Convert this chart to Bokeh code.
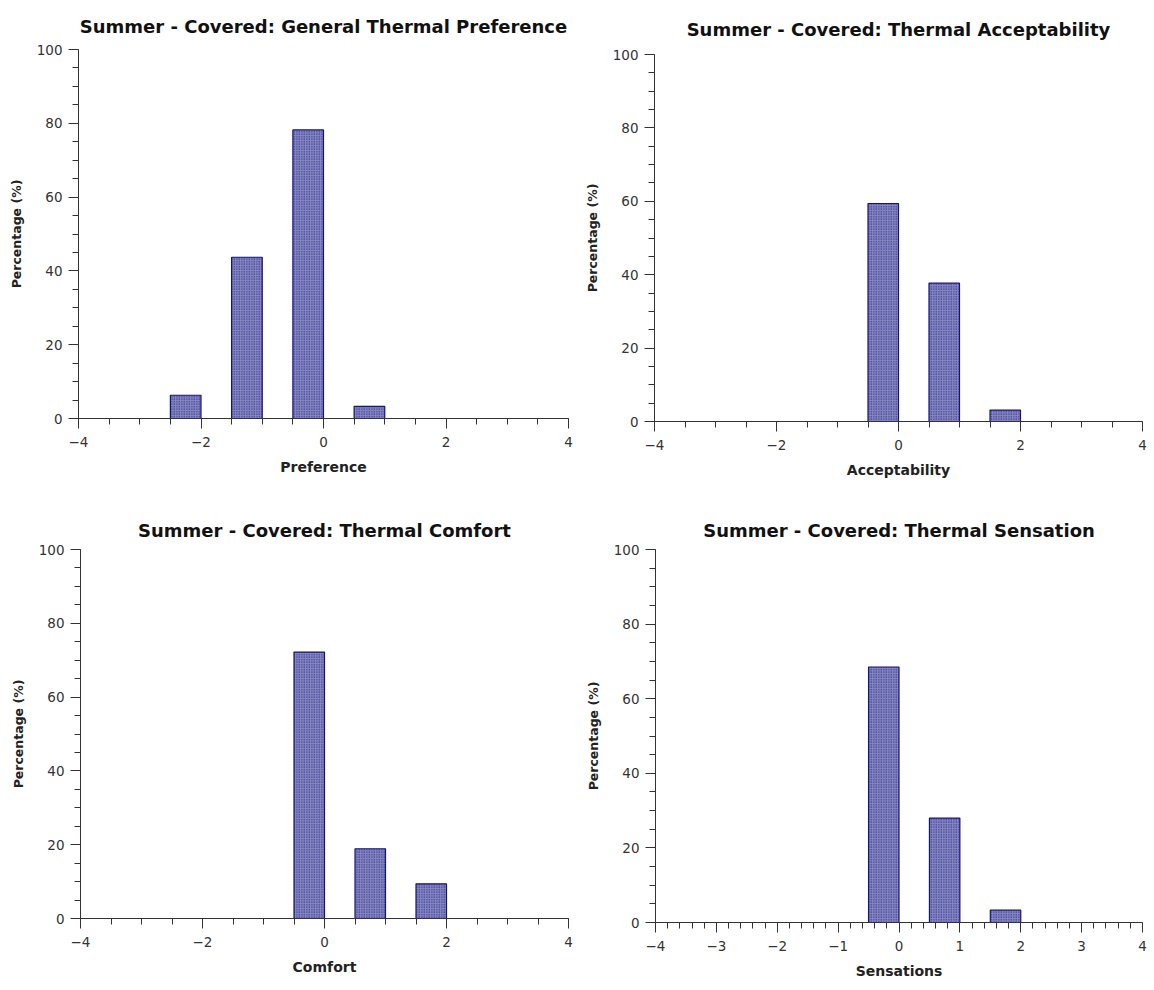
from bokeh.plotting import figure
from bokeh.layouts import column, row
from bokeh.models import SingleIntervalTicker, CustomJSTickFormatter, ColumnDataSource, Range1d
from bokeh.embed import file_html
from bokeh.resources import INLINE

# ---- data ----
pref_cats = [-2, -1, 0, 1]
pref_vals = [6.3, 43.7, 78.2, 3.3]

accept_cats = [0, 1, 2]
accept_vals = [59.4, 37.7, 3.1]

comfort_cats = [0, 1, 2]
comfort_vals = [72.2, 18.9, 9.4]

sens_cats = [0, 1, 2]
sens_vals = [68.5, 28.0, 3.3]

titles = [
    "Summer - Covered: General Thermal Preference",
    "Summer - Covered: Thermal Acceptability",
    "Summer - Covered: Thermal Comfort",
    "Summer - Covered: Thermal Sensation",
]
xlabels = ["Preference", "Acceptability", "Comfort", "Sensations"]
ylabel = "Percentage (%)"
bar_width = 0.5
x_lo, x_hi = -4, 4
y_lo, y_hi = 0, 100

FONT = "DejaVu Sans"
TITLE_H = 24  # approximate height of the 18px title line
fmt = CustomJSTickFormatter(code="return tick < 0 ? '\\u2212' + (-tick) : '' + tick;")


def make(title, xlabel, cats, vals, size, borders, x_interval, x_minor):
    w, h = size
    left_b, right_b, top_b, bottom_b = borders
    p = figure(width=w, height=h,
               min_border_left=left_b, min_border_right=right_b,
               min_border_top=top_b, min_border_bottom=bottom_b,
               x_range=Range1d(x_lo, x_hi), y_range=Range1d(y_lo, y_hi),
               output_backend="svg", toolbar_location=None, tools="")
    p.title.text = title
    p.title.align = "center"
    p.title.text_font = FONT
    p.title.text_font_style = "bold"
    p.title.text_font_size = "18px"
    p.title.text_color = "#111111"
    p.title.standoff = top_b - TITLE_H
    p.outline_line_color = None
    p.xgrid.visible = False
    p.ygrid.visible = False
    p.background_fill_color = "white"
    p.border_fill_color = "white"

    src = ColumnDataSource(dict(left=[c - bar_width for c in cats], right=cats,
                                top=vals, bottom=[0] * len(cats)))
    p.quad(left="left", right="right", top="top", bottom="bottom", source=src,
           fill_color="#8686c0", line_color="#141478", line_width=1.2,
           hatch_pattern="dot", hatch_color="#1c1c86", hatch_scale=2.5, hatch_weight=1)

    for ax in (p.xaxis[0], p.yaxis[0]):
        ax.axis_line_color = "#333333"
        ax.major_tick_line_color = "#333333"
        ax.minor_tick_line_color = "#333333"
        ax.major_label_text_font = FONT
        ax.major_label_text_font_size = "13.5px"
        ax.major_label_text_color = "#333333"
        ax.axis_label_text_font = FONT
        ax.axis_label_text_font_style = "bold"
        ax.axis_label_text_color = "#222222"
        ax.major_tick_in = 0
        ax.minor_tick_in = 0
        ax.major_tick_out = 10
        ax.minor_tick_out = 6
        ax.formatter = fmt

    p.xaxis.ticker = SingleIntervalTicker(interval=x_interval, num_minor_ticks=x_minor)
    p.yaxis.ticker = SingleIntervalTicker(interval=20, num_minor_ticks=4)
    p.xaxis.axis_label = xlabel
    p.yaxis.axis_label = ylabel
    p.xaxis.axis_label_text_font_size = "14px"
    p.yaxis.axis_label_text_font_size = "12.5px"
    p.xaxis.major_label_standoff = 8
    p.xaxis.axis_label_standoff = 9
    p.yaxis.major_label_standoff = 6
    p.yaxis.axis_label_standoff = 10
    return p


f1 = make(titles[0], xlabels[0], pref_cats, pref_vals, (577, 508), (78, 9, 49, 90), 2, 4)
f2 = make(titles[1], xlabels[1], accept_cats, accept_vals, (575, 508), (77, 10, 54, 87), 2, 4)
f3 = make(titles[2], xlabels[2], comfort_cats, comfort_vals, (577, 480), (80, 9, 41, 70), 2, 4)
f4 = make(titles[3], xlabels[3], sens_cats, sens_vals, (575, 480), (78, 10, 41, 66), 1, 5)

# each figure wrapped on its own so that frames are not forced into alignment
layout = column(row(column(f1), column(f2)), row(column(f3), column(f4)))
open("out.html", "w").write(file_html(layout, INLINE))
